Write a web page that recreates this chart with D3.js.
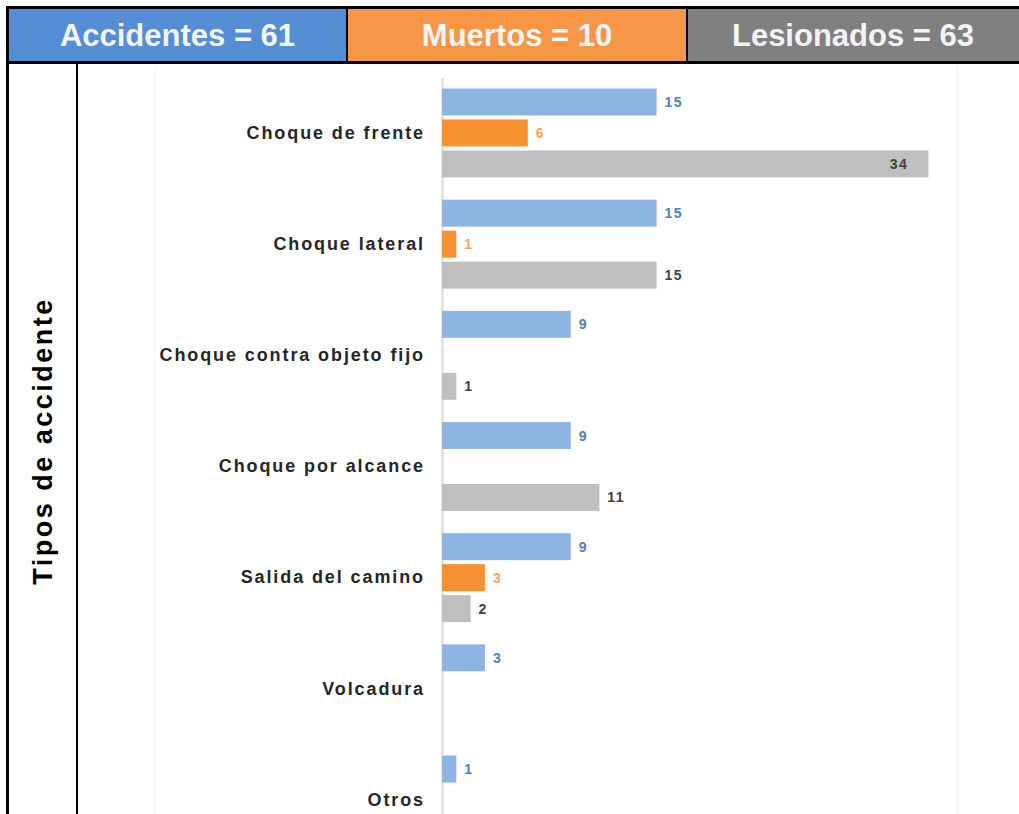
<!DOCTYPE html>
<html><head><meta charset="utf-8">
<script src="https://cdn.jsdelivr.net/npm/d3@7"></script>
<style>html,body{margin:0;padding:0;background:#fff;}svg{display:block;}</style>
</head><body>
<script>
const categories = ["Choque de frente","Choque lateral","Choque contra objeto fijo","Choque por alcance","Salida del camino","Volcadura","Otros"];
const seriesNames = ["Accidentes","Muertos","Lesionados"];
const accidentes = [15,15,9,9,9,3,1];
const muertos = [6,1,0,0,3,0,0];
const lesionados = [34,15,1,11,2,0,0];
const headerLabels = ["Accidentes = 61","Muertos = 10","Lesionados = 63"];
const yTitle = "Tipos de accidente";
const xMax = 36;

const W = 1019, H = 814;
const svg = d3.select("body").append("svg").attr("width", W).attr("height", H);
const FF = "Liberation Sans, Arial, sans-serif";

const barColors = ["#8db4e2","#f79030","#bfbfbf"];
const headColors = ["#558ed5","#f79646","#808080"];
const labelColors = ["#4f81bd","#f7a35c","#404040"];
const seriesData = [accidentes, muertos, lesionados];

// Header cells
const hx = d3.scaleOrdinal().domain(seriesNames).range([[8,347],[347,687],[687,1019]]);
seriesNames.forEach((s,i)=>{
  const [a,b] = hx(s);
  svg.append("rect").attr("x",a).attr("y",8).attr("width",b-a).attr("height",54).attr("fill",headColors[i]);
  svg.append("text").attr("x",(a+b)/2).attr("y",35).attr("text-anchor","middle").attr("dominant-baseline","central")
    .attr("font-family",FF).attr("font-weight","bold").attr("font-size",31)
    .attr("fill","#f4f4f4").text(headerLabels[i]);
});
// borders
const line = (x1,y1,x2,y2,w,c)=>svg.append("line").attr("x1",x1).attr("y1",y1).attr("x2",x2).attr("y2",y2).attr("stroke",c||"#000").attr("stroke-width",w);
line(6,7.5,1019,7.5,3);
line(6,62.5,1019,62.5,3);
line(7.5,6,7.5,814,3);
line(77,62,77,814,2);
line(347,8,347,62,2);
line(687,8,687,62,2);

// plot area faint border
line(155,66,155,814,1,"#f3f3f3");
line(957,66,957,814,1,"#ececec");

// y title
svg.append("text").attr("transform","translate(43,441) rotate(-90)").attr("text-anchor","middle").attr("dominant-baseline","central")
  .attr("font-family",FF).attr("font-weight","bold").attr("font-size",27).attr("letter-spacing",2.5)
  .attr("fill","#000").text(yTitle);

const x = d3.scaleLinear().domain([0,xMax]).range([442,957]);
const y0 = d3.scaleBand().domain(categories).range([77.4,855.6]).paddingInner(0.2).paddingOuter(0.1);
const y1 = d3.scaleBand().domain(seriesNames).range([0,y0.bandwidth()]).paddingInner(0.13);

// axis
svg.append("g").attr("transform",`translate(${x(0)},0)`)
  .call(d3.axisLeft(y0).tickSize(0).tickPadding(17))
  .call(g=>{
    g.select(".domain").attr("stroke","#d9d9d9").attr("stroke-width",2);
    g.selectAll("text").attr("font-family",FF).attr("font-weight","bold")
      .attr("font-size",18).attr("letter-spacing",1.9).attr("fill","#262626");
  });

const groups = svg.append("g").selectAll("g").data(categories).join("g")
  .attr("transform",d=>`translate(0,${y0(d)})`);

seriesNames.forEach((s,si)=>{
  groups.each(function(c,ci){
    const v = seriesData[si][ci];
    if(!v) return;
    const g = d3.select(this);
    g.append("rect").attr("x",x(0)).attr("y",y1(s)).attr("width",x(v)-x(0)).attr("height",y1.bandwidth())
      .attr("fill",barColors[si]);
    const inside = v >= 30;
    g.append("text").attr("x", inside ? x(v)-20 : x(v)+8).attr("y",y1(s)+y1.bandwidth()/2)
      .attr("text-anchor", inside ? "end" : "start").attr("dominant-baseline","central")
      .attr("font-family",FF).attr("font-weight","bold").attr("font-size",14).attr("letter-spacing",1.5)
      .attr("fill",labelColors[si]).text(v);
  });
});
</script>
</body></html>
